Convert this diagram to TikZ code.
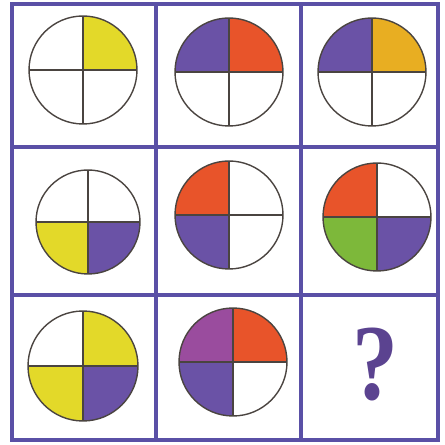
\documentclass[tikz,border=0pt]{standalone}
\usepackage{tikz}
\usepackage{fontspec}
\newfontfamily\qfont{Liberation Serif}
\definecolor{gridc}{HTML}{5A50A6}
\definecolor{yel}{HTML}{E3D929}
\definecolor{pur}{HTML}{6A52A6}
\definecolor{red}{HTML}{E8542A}
\definecolor{gold}{HTML}{E8AE22}
\definecolor{grn}{HTML}{7DB83A}
\definecolor{mag}{HTML}{9A4C9E}
\definecolor{qpur}{HTML}{5B4390}
\definecolor{edge}{HTML}{4A4440}
\tikzset{
  gridline/.style={draw=gridc, line width=3.5pt},
  rim/.style={draw=edge, line width=1.4pt},
  cross/.style={draw=edge, line width=1.3pt},
}
% #1 cx, #2 cy (image coords), #3 r, #4 TR, #5 TL, #6 BL, #7 BR
\newcommand\quadpie[7]{%
  \coordinate (c) at (#1,445-#2);
  \fill[#4] (c) -- ++(#3,0) arc[start angle=0,end angle=90,radius=#3] -- cycle;
  \fill[#5] (c) -- ++(0,#3) arc[start angle=90,end angle=180,radius=#3] -- cycle;
  \fill[#6] (c) -- ++(-#3,0) arc[start angle=180,end angle=270,radius=#3] -- cycle;
  \fill[#7] (c) -- ++(0,-#3) arc[start angle=270,end angle=360,radius=#3] -- cycle;
  \draw[cross] ([xshift=-#3]c) -- ([xshift=#3]c);
  \draw[cross] ([yshift=-#3]c) -- ([yshift=#3]c);
  \draw[rim] (c) circle[radius=#3];
}
\begin{document}
\begin{tikzpicture}[x=1pt,y=1pt]
\useasboundingbox (0,0) rectangle (445,445);
\fill[white] (0,0) rectangle (445,445);
% circles
\quadpie{83}{70}{54}{yel}{white}{white}{white}
\quadpie{229}{72}{54}{red}{pur}{white}{white}
\quadpie{372}{72}{54}{gold}{pur}{white}{white}
\quadpie{88}{222}{52}{white}{white}{yel}{pur}
\quadpie{229}{215}{54}{white}{red}{pur}{white}
\quadpie{377}{217}{54}{white}{red}{grn}{pur}
\quadpie{83}{366}{55}{yel}{white}{yel}{pur}
\quadpie{233}{362}{54}{red}{mag}{pur}{white}
\node[text=qpur, font=\qfont\bfseries\fontsize{108}{108}\selectfont, xscale=0.85] (q) at (375,445-365) {?};
% grid
\draw[gridline] (12,441) rectangle (438,5);
\draw[gridline] (156,441) -- (156,5);
\draw[gridline] (301,441) -- (301,5);
\draw[gridline] (12,298) -- (438,298);
\draw[gridline] (12,150) -- (438,150);
\end{tikzpicture}
\end{document}
